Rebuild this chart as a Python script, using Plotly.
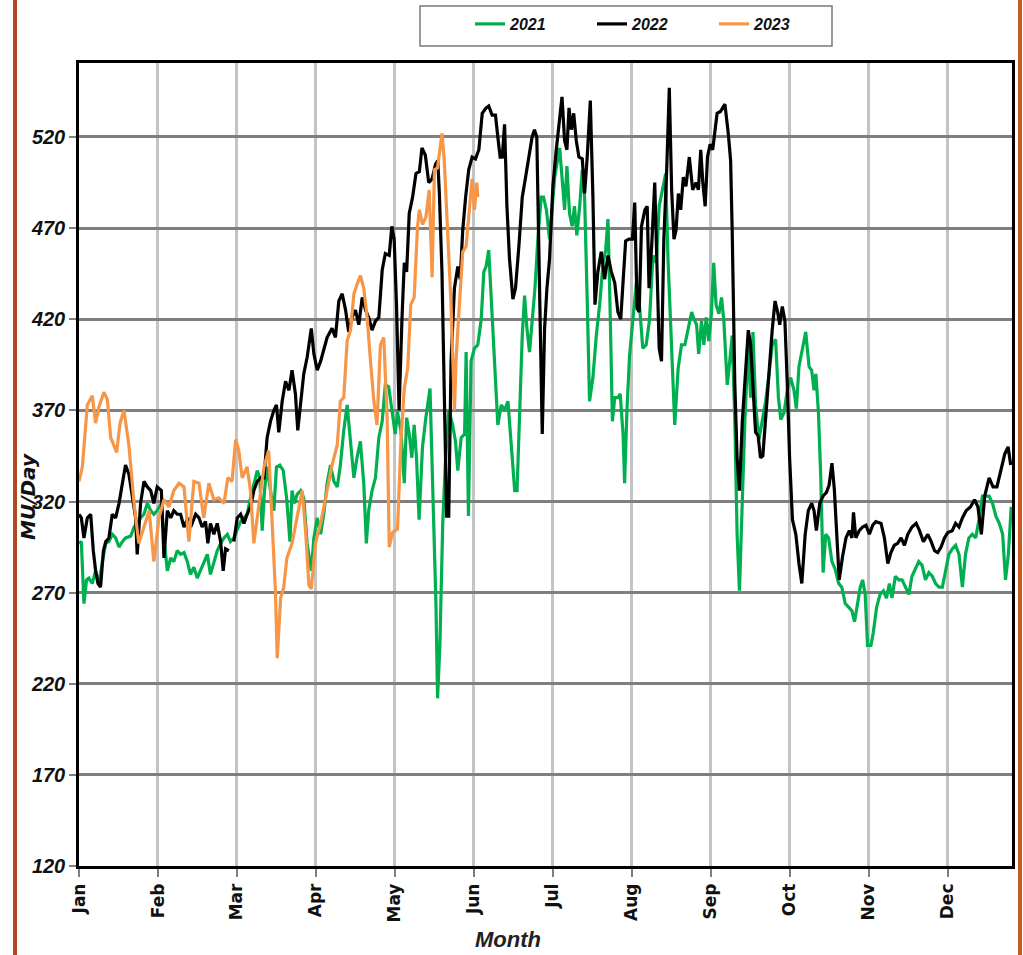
import plotly.graph_objects as go

# ---------------- data ----------------
months = ["Jan", "Feb", "Mar", "Apr", "May", "Jun", "Jul", "Aug", "Sep", "Oct", "Nov", "Dec"]
month_pos = [0, 30.4, 60.8, 91.2, 121.6, 152.0, 182.4, 212.8, 243.2, 273.6, 304.0, 334.4]
y_ticks = [120, 170, 220, 270, 320, 370, 420, 470, 520]

day_2021 = [0, 0.9, 1.9, 2.9, 3.8, 5.1, 6.4, 7.7, 9, 10.3, 11.5, 12.8, 14.1, 15.4, 16.7, 17.9, 19.9, 21.2, 22.4, 23.7,
            25, 26.3, 27.6, 28.8, 30.1, 31.7, 32.9, 34, 35.3, 36.5, 37.8, 39.1, 40.4, 41.7, 42.9, 44.2, 45.5, 46.8, 48.1, 49.4,
            50.6, 51.9, 53.2, 54.5, 55.8, 57.1, 58.3, 59.6, 60.9, 62.2, 63.5, 64.7, 66, 67.3, 68.6, 69.6, 70.5, 71.4, 72.4, 73.7,
            75, 76, 77.3, 78.6, 79.9, 81.2, 82, 82.9, 84, 85.3, 86.5, 87.8, 89.4, 90.4, 91.7, 93, 94.2, 95.5, 96.8, 98.1,
            99.4, 100.6, 101.9, 103.2, 104.5, 105.8, 107, 108.3, 109.6, 110.6, 111.5, 112.8, 114.1, 115.4, 116.7, 117.9, 119.2, 120.7, 121.7, 122.6,
            123.9, 125.2, 126.1, 127.1, 128.1, 129, 129.9, 130.9, 132.2, 133.5, 135.1, 136.1, 137.4, 138, 138.9, 140, 141, 142.3, 143.8, 144.9,
            145.8, 147.1, 148.4, 149, 149.9, 150.9, 152.2, 153.5, 154.8, 155.8, 156.7, 157.7, 158.6, 159.9, 161.2, 162.5, 163.8, 165.1, 166.4, 167.7,
            168.6, 169.6, 170.6, 171.5, 172.4, 173.4, 174.4, 175.5, 176.6, 177.9, 178.8, 179.9, 181.1, 182.2, 183.1, 184.4, 185, 185.9, 186.9, 187.8,
            188.8, 189.8, 190.7, 191.6, 192.7, 193.7, 194.6, 195.6, 196.5, 197.8, 199.1, 200.4, 201.7, 202.7, 203.6, 204.5, 205.3, 206.2, 207.4, 208.3,
            209.4, 210, 210.9, 211.9, 213.2, 214.5, 215.7, 217, 218.3, 219.6, 220.9, 222.2, 223.3, 224.5, 225.8, 226.7, 228, 229.3, 230.6, 231.9,
            233.2, 234.5, 235.8, 236.7, 237.7, 238.5, 239.6, 240.5, 241.4, 242.4, 243.4, 244.3, 245.2, 246.3, 247.3, 248.2, 249.5, 250.4, 251.4, 252.4,
            253.3, 254.2, 255.3, 256.3, 257.6, 258.5, 259.4, 260.4, 261.7, 263, 264.3, 265.6, 266.8, 268.1, 269.2, 270.1, 271.4, 272.6, 273.9, 275.2,
            276.1, 277.1, 278.4, 279.7, 281, 282, 282.9, 283.6, 284.6, 285.5, 286.4, 287.4, 288.5, 289.8, 291, 292.4, 293.6, 294.9, 296.2, 297.5,
            298.5, 299.7, 300.7, 301.6, 302.6, 303.5, 304.8, 305.7, 307, 308.3, 309.6, 310.8, 311.9, 312.9, 314.2, 315.5, 316.8, 318.1, 319.4, 320.6,
            321.9, 323.2, 324.5, 325.8, 327.1, 328.4, 329.7, 331, 332.3, 333.5, 334.8, 336.1, 337.4, 338.7, 340, 341.2, 342.5, 343.8, 345.1, 346.4,
            347.7, 349, 350.3, 351.6, 352.9, 354.2, 355.5, 356.6, 357.7, 358.8]
mu_2021 = [297, 298, 264, 277, 278, 275, 282, 275, 287, 297, 298, 302, 300, 295, 298, 300, 301, 306, 308, 311,
           313, 319, 315, 313, 315, 319, 297, 282, 289, 287, 293, 291, 292, 287, 280, 284, 278, 282, 286, 291,
           280, 287, 293, 297, 300, 302, 298, 300, 304, 309, 311, 313, 322, 330, 337, 333, 304, 326, 339, 326,
           315, 339, 340, 337, 322, 298, 326, 319, 324, 326, 322, 297, 282, 300, 311, 302, 313, 330, 340, 331,
           328, 340, 359, 373, 355, 333, 344, 353, 330, 297, 315, 326, 333, 355, 364, 384, 383, 366, 357, 369,
           359, 330, 366, 357, 344, 362, 344, 310, 350, 366, 382, 330, 263, 212, 241, 308, 341, 370, 362, 353,
           337, 355, 357, 402, 312, 397, 404, 406, 420, 446, 449, 458, 431, 397, 362, 373, 370, 375, 353, 326,
           326, 364, 411, 433, 415, 402, 420, 437, 464, 487, 487, 480, 464, 482, 498, 509, 514, 498, 480, 504,
           478, 471, 482, 466, 482, 502, 487, 431, 375, 388, 411, 428, 451, 458, 475, 420, 364, 377, 377, 379,
           357, 330, 370, 400, 422, 440, 428, 404, 406, 420, 455, 451, 482, 491, 500, 453, 404, 362, 393, 406,
           406, 415, 424, 420, 417, 401, 419, 406, 421, 408, 423, 451, 428, 423, 432, 419, 384, 396, 411, 365,
           302, 271, 323, 365, 406, 377, 413, 373, 354, 365, 375, 390, 406, 409, 377, 365, 369, 381, 388, 381,
           371, 394, 404, 413, 394, 392, 381, 390, 369, 333, 281, 302, 300, 287, 283, 275, 273, 264, 262, 260,
           254, 264, 273, 277, 269, 241, 241, 248, 262, 269, 271, 267, 275, 267, 279, 277, 277, 273, 269, 279,
           283, 287, 285, 277, 281, 279, 275, 273, 273, 281, 291, 294, 296, 291, 273, 291, 300, 302, 300, 310,
           323, 323, 323, 319, 312, 308, 302, 277, 291, 317]

day_2022 = [0, 0.9, 1.9, 3.2, 4.5, 5.5, 6.4, 7.3, 8.3, 9.4, 10.3, 11.5, 12.8, 14.1, 15.4, 16.7, 17.9, 19.2, 20.5, 21.8,
            22.4, 23.7, 25, 26.3, 27.6, 28.8, 30.1, 31.7, 32.7, 34, 35.3, 36.5, 37.8, 39.1, 40.4, 41.9, 43, 44.9, 46.2, 47.4,
            48.7, 49.6, 50.6, 51.9, 53.2, 54.5, 55.5, 56.4, 57.7, 58.6, 59.6, 60.9, 62.2, 63.5, 64.7, 66, 67.3, 68.6, 69.9, 71.2,
            72.4, 73.7, 75, 76, 76.9, 78.2, 79.5, 80.8, 82, 83.3, 84.2, 85.3, 86.5, 87.8, 89.4, 90.4, 91.7, 93, 94.2, 95.5,
            97.4, 98.7, 100, 101.3, 102.6, 103.8, 105.1, 106.4, 107.7, 109, 110.3, 111.5, 112.8, 114.1, 115.4, 116.7, 117.9, 119.4, 120.4, 121.3,
            122.2, 123.2, 124.3, 125.2, 126.1, 127.1, 128.4, 129.7, 131, 132, 133.3, 134.6, 135.9, 137.2, 138.1, 138.7, 139.7, 140.6, 141.5, 142.3,
            143.2, 144.5, 145.8, 146.7, 147.7, 148.8, 150, 151.3, 152.6, 153.9, 155.2, 156.7, 157.7, 159, 160.3, 161.2, 162.1, 162.9, 163.8, 164.7,
            165.7, 167, 168, 169.3, 170.6, 171.9, 173.2, 174.4, 175.3, 176.2, 177.2, 178.3, 179.2, 180.1, 181.1, 182.4, 183.7, 185, 185.9, 186.9,
            187.8, 188.6, 189.5, 190.4, 191.4, 192.4, 193.7, 194.6, 195.6, 196.8, 197.8, 198.6, 199.7, 201, 202.3, 203.6, 204.9, 206.2, 207.4, 208.5,
            209.4, 210.4, 211.7, 213, 213.9, 214.8, 215.6, 216.5, 217.8, 218.7, 219.4, 220.4, 221.6, 222.3, 223.3, 224.2, 225.1, 226.2, 227.2, 228.1,
            229, 229.8, 230.7, 231.6, 232.6, 233.6, 234.9, 236.2, 237.5, 238.4, 239.3, 240.1, 241, 241.9, 242.9, 243.9, 245.6, 246.9, 248.6, 249.9,
            250.8, 251.4, 252.4, 253.3, 254.2, 255.3, 256.6, 257.6, 258.5, 259.4, 260.4, 261.4, 262.3, 263.2, 264.3, 265.6, 266.8, 267.9, 268.9, 269.7,
            270.7, 271.7, 272.6, 273.5, 274.6, 275.9, 277.1, 278.2, 279.5, 280.7, 282, 282.9, 283.8, 285.1, 286.4, 287.7, 288.7, 289.8, 290.7, 291.6,
            292.6, 293.9, 295.2, 296.5, 297.5, 298.1, 299, 300.3, 301.6, 302.9, 304.2, 305.5, 306.7, 308.7, 310, 311.3, 312.5, 313.8, 315.1, 316.4,
            317.7, 319, 320.6, 322.2, 323.5, 325, 326.7, 328, 329.3, 330.5, 331.8, 333.1, 334.4, 336.1, 337.4, 338.7, 340, 341.5, 343.1, 344.7,
            346, 347.3, 348.6, 350.3, 351.8, 353.3, 355, 356.3, 357.6, 358.6]
mu_2022 = [313, 311, 300, 311, 313, 293, 282, 275, 273, 293, 298, 300, 313, 311, 319, 330, 340, 335, 322, 311,
           291, 319, 331, 328, 326, 319, 328, 326, 289, 315, 311, 315, 313, 313, 306, 311, 306, 313, 311, 306,
           309, 297, 308, 302, 308, 298, 282, 294, 293, None, 298, 311, 313, 308, 313, 317, 326, 331, 333, 333,
           355, 364, 370, 373, 358, 375, 386, 381, 392, 379, 359, 375, 390, 399, 415, 401, 392, 397, 403, 410,
           415, 410, 430, 434, 425, 413, 421, 425, 417, 432, 425, 421, 414, 419, 421, 447, 456, 455, 471, 464,
           428, 370, 420, 451, 446, 478, 487, 500, 501, 514, 510, 495, 497, 505, 507, 489, 446, 375, 312, 312,
           397, 437, 449, 442, 469, 487, 502, 509, 508, 513, 533, 536, 537, 532, 532, 520, 509, 509, 527, 482,
           453, 431, 437, 460, 487, 498, 509, 520, 524, 520, 442, 357, 415, 437, 453, 493, 513, 531, 542, 518,
           513, 536, 524, 533, 518, 509, 508, 489, 509, 540, 487, 428, 446, 457, 442, 455, 446, 440, 424, 420,
           440, 463, 464, 464, 484, 426, 424, 471, 480, 482, 437, 460, 495, 453, 404, 397, 464, 502, 547, 491,
           464, 469, 489, 480, 498, 493, 509, 491, 495, 491, 513, 495, 482, 509, 516, 513, 533, 534, 538, 522,
           507, 469, 385, 344, 326, 364, 395, 414, 406, 379, 358, 356, 344, 345, 364, 391, 414, 430, 424, 417,
           427, 419, 385, 344, 310, 302, 286, 275, 302, 315, 319, 315, 304, 319, 323, 325, 329, 341, 327, 302,
           277, 290, 300, 304, 300, 314, 300, 304, 306, 307, 302, 307, 309, 308, 300, 286, 292, 296, 297, 300,
           296, 302, 306, 308, 304, 298, 302, 298, 293, 292, 295, 300, 303, 304, 308, 306, 311, 315, 317, 321,
           317, 302, 323, 333, 328, 328, 338, 346, 350, 340]

day_2023 = [0, 1.3, 3.2, 5.1, 6.4, 7.7, 9.6, 10.9, 12.2, 13.5, 14.5, 15.8, 17.3, 19.2, 21.2, 23, 25, 27, 28.8, 30.8,
            32.7, 34.6, 36.5, 38.5, 40.4, 42.3, 44.2, 46.2, 48, 50, 51.9, 53.8, 55.8, 57.3, 58.9, 60.3, 61.5, 62.8, 64.7, 66,
            67.3, 69.2, 71.2, 73, 74.4, 75.6, 76.3, 77.6, 78.8, 80, 82, 84, 85.9, 87.2, 88.5, 89.4, 91, 93, 95.5, 97.4,
            99.4, 100.6, 101.9, 103.2, 104.5, 105.8, 107, 108.3, 109.6, 110.9, 112.2, 113.5, 114.7, 116, 117.3, 118.6, 119.4, 120.7, 122.6, 123.9,
            125.2, 126.5, 127.7, 129, 130.3, 131, 132.2, 133.5, 134.8, 135.9, 136.8, 138, 138.7, 139.7, 140.6, 141.9, 143.2, 144.5, 145.1, 146.4,
            147.7, 149, 150.3, 151.3, 152.2, 153.1, 153.5]
mu_2023 = [331, 339, 373, 378, 363, 372, 380, 376, 355, 350, 347, 363, 370, 351, 319, 297, 306, 315, 287, 311,
           321, 317, 326, 330, 328, 298, 331, 330, 311, 330, 321, 322, 319, 333, 331, 354, 348, 333, 339, 326,
           297, 319, 339, 348, 308, 271, 234, 267, 273, 289, 297, 311, 326, 304, 274, 272, 297, 308, 326, 340,
           351, 375, 377, 408, 414, 434, 439, 444, 437, 421, 397, 375, 362, 406, 410, 366, 295, 303, 305, 353,
           382, 393, 428, 432, 471, 480, 472, 476, 491, 443, 502, 503, 511, 522, 507, 469, 428, 370, 397, 428,
           457, 460, 480, 497, 480, 495, 487]

# ---------------- figure ----------------
W, H = 1023, 955
ML, MR, MT, MB = 79, 11, 63, 89
PW, PH = W - ML - MR, H - MT - MB


def px_x(p):
    return (p - ML) / PW


def px_y(p):
    return (H - MB - p) / PH


fig = go.Figure()
series = [("2021", day_2021, mu_2021, "#00B050"),
          ("2022", day_2022, mu_2022, "#000000"),
          ("2023", day_2023, mu_2023, "#F79646")]
for name, xs, ys, col in series:
    fig.add_trace(go.Scatter(x=xs, y=ys, mode="lines", name=name,
                             line=dict(color=col, width=3.2), connectgaps=False))

narrow = "Liberation Sans Narrow, Arial Narrow, Liberation Sans, Arial, sans-serif"

fig.update_layout(
    width=W, height=H,
    margin=dict(l=ML, r=MR, t=MT, b=MB, autoexpand=False),
    paper_bgcolor="white", plot_bgcolor="white",
    showlegend=True,
    legend=dict(orientation="h", x=px_x(470), y=px_y(7), xanchor="left", yanchor="top",
                font=dict(family=narrow, size=16, color="#111111", weight="bold", style="italic"),
                entrywidth=77, entrywidthmode="pixels", itemwidth=30,
                bgcolor="rgba(0,0,0,0)", borderwidth=0),
    xaxis=dict(range=[0, 359.1], tickmode="array", tickvals=month_pos, ticktext=months,
               tickangle=-90, ticks="outside", ticklen=8, tickwidth=2, tickcolor="#7f7f7f",
               showgrid=True, gridcolor="#c4c4c4", gridwidth=2.5,
               showline=True, linecolor="black", linewidth=2.5, mirror=True,
               zeroline=False,
               tickfont=dict(family="DejaVu Sans, Liberation Sans, sans-serif", size=17,
                             color="#111111", weight="bold")),
    yaxis=dict(range=[120, 560.6], tickmode="array", tickvals=y_ticks,
               ticks="outside", ticklen=7, tickwidth=2, tickcolor="#7f7f7f",
               showgrid=True, gridcolor="#7f7f7f", gridwidth=2.5,
               showline=True, linecolor="black", linewidth=2.5, mirror=True,
               zeroline=False,
               tickfont=dict(family=narrow, size=20, color="#111111", weight="bold", style="italic")),
    shapes=[
        dict(type="rect", xref="paper", yref="paper", x0=px_x(420), x1=px_x(832),
             y0=px_y(46), y1=px_y(6), line=dict(color="#7a7a7a", width=1.5)),
        dict(type="line", xref="paper", yref="paper", x0=px_x(15), x1=px_x(15),
             y0=px_y(H), y1=px_y(0), line=dict(color="#B04A1C", width=4)),
        dict(type="line", xref="paper", yref="paper", x0=px_x(1020), x1=px_x(1020),
             y0=px_y(H), y1=px_y(0), line=dict(color="#C8581F", width=4)),
    ],
    annotations=[
        dict(text="Month", xref="paper", yref="paper", x=px_x(508), y=px_y(940),
             xanchor="center", yanchor="middle", showarrow=False,
             font=dict(family=narrow, size=22, color="#222222", weight="bold", style="italic")),
        dict(text="MU/Day", xref="paper", yref="paper", x=px_x(28), y=px_y(497),
             xanchor="center", yanchor="middle", showarrow=False, textangle=-90,
             font=dict(family="DejaVu Sans, Liberation Sans, sans-serif", size=20, color="#111111",
                       weight="bold", style="italic")),
    ],
)

fig.write_html("out.html", config={"displayModeBar": False},
               post_script="document.body.style.margin='0';document.body.style.padding='0';"
                           "document.documentElement.style.overflow='hidden';")
